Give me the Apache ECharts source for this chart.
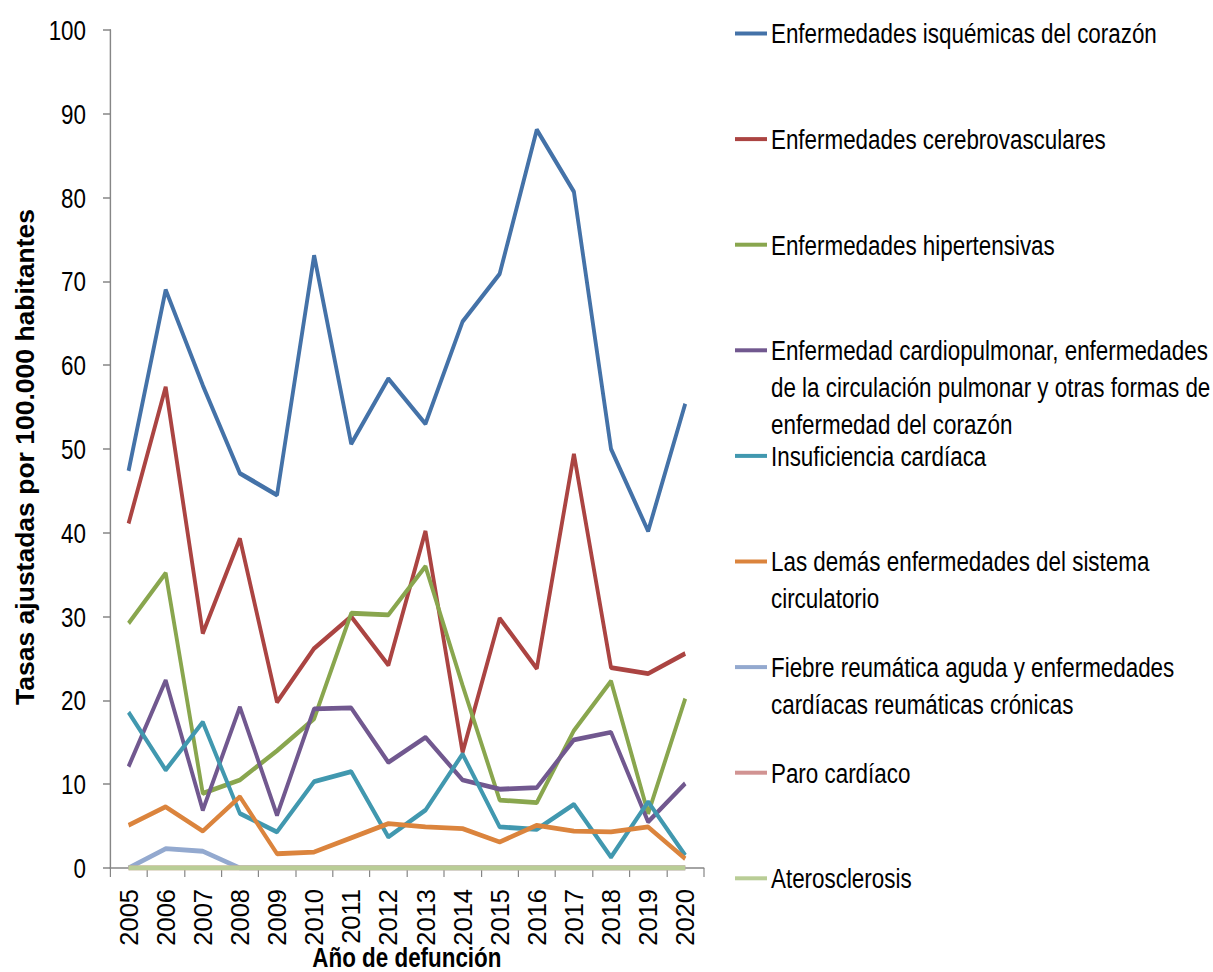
<!DOCTYPE html>
<html>
<head>
<meta charset="utf-8">
<script src="https://cdn.jsdelivr.net/npm/echarts@6/dist/echarts.min.js"></script>
<style>
  html, body { margin: 0; padding: 0; background: #fff; overflow: hidden; }
  #wrap { position: relative; width: 1213px; height: 972px; }
  /* the original picture is squeezed sideways, so the main chart is drawn wider and scaled back */
  #chart { position: absolute; left: 0; top: 0; height: 972px; transform-origin: 0 0; }
  #labels { position: absolute; left: 0; top: 0; width: 1213px; height: 972px; pointer-events: none; }
</style>
</head>
<body>
<div id="wrap">
  <div id="chart"></div>
  <div id="labels"></div>
</div>
<script>
const years = ['2005', '2006', '2007', '2008', '2009', '2010', '2011', '2012',
  '2013', '2014', '2015', '2016', '2017', '2018', '2019', '2020']

const isquemicas = [47.4, 69.0, 57.6, 47.1, 44.5, 73.1, 50.6, 58.4, 53.0, 65.2, 70.9, 88.1, 80.7, 50.0, 40.2, 55.4]
const cerebrovasculares = [41.1, 57.4, 28.0, 39.3, 19.8, 26.2, 30.0, 24.2, 40.2, 13.8, 29.8, 23.8, 49.4, 23.9, 23.2, 25.6]
const hipertensivas = [29.2, 35.2, 8.9, 10.5, 14.0, 17.8, 30.4, 30.2, 36.0, 21.8, 8.1, 7.8, 16.4, 22.3, 6.5, 20.2]
const cardiopulmonar = [12.1, 22.4, 6.9, 19.2, 6.3, 19.0, 19.1, 12.6, 15.6, 10.5, 9.4, 9.6, 15.3, 16.2, 5.5, 10.1]
const insuficiencia = [18.6, 11.7, 17.4, 6.5, 4.3, 10.3, 11.5, 3.7, 6.9, 13.6, 4.9, 4.6, 7.6, 1.3, 7.9, 1.5]
const demas = [5.1, 7.3, 4.4, 8.5, 1.7, 1.9, 3.6, 5.3, 4.9, 4.7, 3.1, 5.1, 4.4, 4.3, 4.9, 1.1]
const fiebre = [0, 2.3, 2.0, 0, 0, 0, 0, 0, 0, 0, 0, 0, 0, 0, 0, 0]
const paro = [0, 0, 0, 0, 0, 0, 0, 0, 0, 0, 0, 0, 0, 0, 0, 0]
const aterosclerosis = [0, 0, 0, 0, 0, 0, 0, 0, 0, 0, 0, 0, 0, 0, 0, 0]

const yTicks = { min: 0, max: 100, interval: 10 }

const names = [
  'Enfermedades isquémicas del corazón',
  'Enfermedades cerebrovasculares',
  'Enfermedades hipertensivas',
  'Enfermedad cardiopulmonar, enfermedades\nde la circulación pulmonar y otras formas de\nenfermedad del corazón',
  'Insuficiencia cardíaca',
  'Las demás enfermedades del sistema\ncirculatorio',
  'Fiebre reumática aguda y enfermedades\ncardíacas reumáticas crónicas',
  'Paro cardíaco',
  'Aterosclerosis'
]
const values = [isquemicas, cerebrovasculares, hipertensivas, cardiopulmonar,
  insuficiencia, demas, fiebre, paro, aterosclerosis]
const colors = ['#4472a8', '#ab4442', '#89a64e', '#71588f', '#4198af',
  '#db843d', '#93a9cf', '#d19392', '#b9cd96']

const font = '"Liberation Sans", Arial, sans-serif'
const sx = 0.8          // horizontal squeeze of the main chart
const lineH = 37
const axisGrey = '#868686'

const chartEl = document.getElementById('chart')
chartEl.style.width = (1213 / sx) + 'px'
chartEl.style.transform = 'scaleX(' + sx + ')'

const chart = echarts.init(chartEl, null, { renderer: 'svg' })
const labels = echarts.init(document.getElementById('labels'), null, { renderer: 'svg' })

// one legend per entry so the spacing stays fixed like the original;
// blank lines in front keep the icon level with the first text line
const legends = names.map((name, i) => {
  const lines = name.split('\n').length
  return {
    data: [name],
    orient: 'vertical',
    left: 735 / sx,
    top: 33.5 + 105.6 * i - (2 * lines - 1) * lineH / 2,
    padding: 0,
    icon: 'rect',
    itemWidth: 32 / sx,
    itemHeight: 4,
    selectedMode: false,
    formatter: n => '\n'.repeat(lines - 1) + n,
    textStyle: { fontFamily: font, fontSize: 28, color: '#000', lineHeight: lineH }
  }
})

chart.setOption({
  animation: false,
  legend: legends,
  grid: { left: 110 / sx, top: 30, right: 509 / sx, bottom: 104, outerBoundsMode: 'none' },
  xAxis: {
    type: 'category',
    data: years,
    boundaryGap: true,
    name: 'Año de defunción',
    nameLocation: 'middle',
    nameGap: 75,
    nameTextStyle: { fontFamily: font, fontWeight: 'bold', fontSize: 28, color: '#000' },
    axisLine: { lineStyle: { color: axisGrey, width: 1.5 } },
    axisTick: { show: true, length: 9, lineStyle: { color: axisGrey, width: 1.5 } },
    axisLabel: { show: false }
  },
  yAxis: {
    type: 'value',
    min: yTicks.min,
    max: yTicks.max,
    interval: yTicks.interval,
    axisLine: { show: true, lineStyle: { color: axisGrey, width: 1.8 } },
    axisTick: { show: true, length: 7 / sx, lineStyle: { color: axisGrey, width: 1.5 } },
    splitLine: { show: false },
    axisLabel: { margin: 30, fontFamily: font, fontSize: 28, color: '#000' }
  },
  series: names.map((name, i) => ({
    name: name,
    type: 'line',
    data: values[i],
    color: colors[i],
    symbol: 'none',
    lineStyle: { width: 4.8, color: colors[i] },
    itemStyle: { color: colors[i] }
  }))
})

// rotated texts are not squeezed in the original, so they sit on an unscaled overlay
labels.setOption({
  animation: false,
  grid: { left: 110, top: 30, right: 509, bottom: 104, outerBoundsMode: 'none' },
  xAxis: {
    type: 'category',
    data: years,
    boundaryGap: true,
    axisLine: { show: false },
    axisTick: { show: false },
    axisLabel: { rotate: 90, margin: 21, fontFamily: font, fontSize: 25.5, color: '#000' }
  },
  yAxis: {
    type: 'value',
    min: yTicks.min,
    max: yTicks.max,
    interval: yTicks.interval,
    name: 'Tasas ajustadas por 100.000 habitantes',
    nameLocation: 'middle',
    nameGap: 72,
    nameTextStyle: { fontFamily: font, fontWeight: 'bold', fontSize: 26.5, color: '#000', padding: [0, 16, 0, 0] },
    axisLine: { show: false },
    axisTick: { show: false },
    splitLine: { show: false },
    axisLabel: { show: false }
  },
  series: []
})
</script>
</body>
</html>
